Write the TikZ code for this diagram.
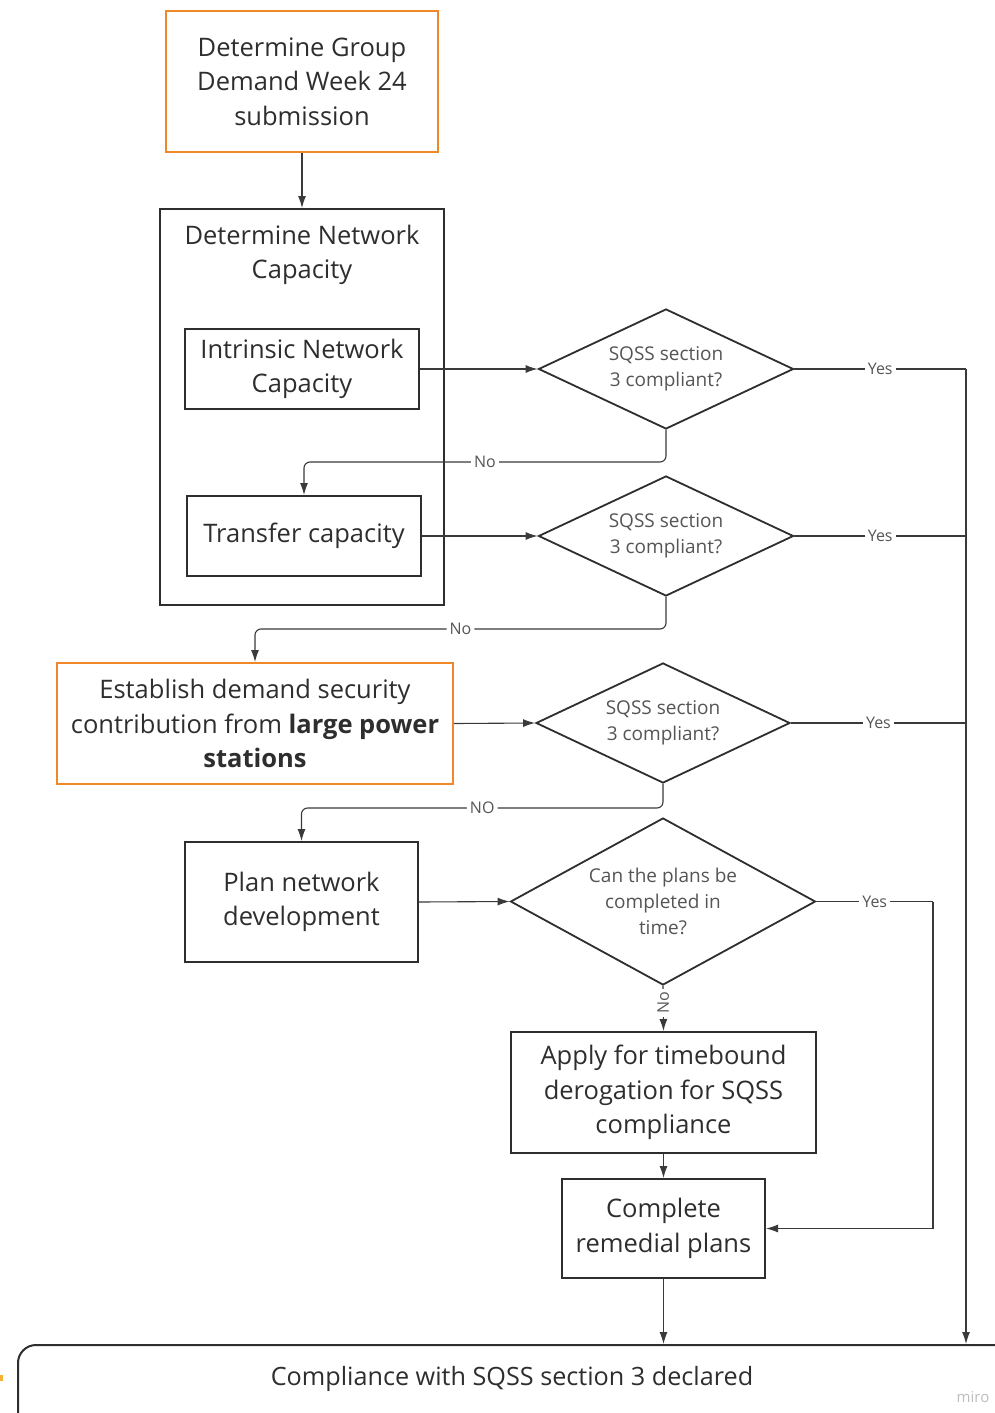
\documentclass[tikz,border=0pt]{standalone}
\usepackage{fontspec}
\setmainfont{Open Sans}
\usetikzlibrary{shapes.geometric,arrows.meta}
\definecolor{miroorange}{HTML}{F0882A}
\definecolor{ink}{HTML}{2E2E2E}
\definecolor{wire}{HTML}{3A3A3A}
\definecolor{labelgrey}{HTML}{555555}
\definecolor{markgrey}{HTML}{BDBDBD}
\definecolor{markyellow}{HTML}{F5B335}

\begin{document}
\begin{tikzpicture}[x=1pt,y=-1pt,
  box/.style={draw=ink, line width=2pt, rectangle, inner sep=0pt, align=center,
    font=\fontsize{25.5}{34.5}\selectfont, text=ink},
  obox/.style={box, draw=miroorange},
  dec/.style={draw=ink, line width=1.8pt, diamond, inner sep=0pt, align=center,
    font=\fontsize{19}{26}\selectfont, text=labelgrey},
  flow/.style={draw=wire, line width=1.1pt, -{Latex[length=12pt,width=8pt]}},
  edge/.style={draw=wire, line width=1.1pt},
  lbl/.style={fill=white, inner sep=3pt, font=\fontsize{16}{17}\selectfont, text=labelgrey},
]
\clip (0,0) rectangle (995,1413);
\fill[white] (0,0) rectangle (995,1413);

% process boxes
\node[obox, minimum width=272, minimum height=141] (group) at (302,81.5)
  {Determine Group\\Demand Week 24\\submission};
\node[box, minimum width=284, minimum height=396] (netcap) at (302,407) {};
\node[align=center, font=\fontsize{25.5}{34.5}\selectfont, text=ink] (netcaptitle) at (302,255)
  {Determine Network\\Capacity};
\node[box, minimum width=234, minimum height=80] (intrinsic) at (302,369)
  {Intrinsic Network\\Capacity};
\node[box, minimum width=234, minimum height=80] (transfer) at (304,536)
  {Transfer capacity};
\node[obox, minimum width=396, minimum height=121] (largegen) at (255,723.5)
  {Establish demand security\\contribution from \textbf{large power}\\\textbf{stations}};
\node[box, minimum width=233, minimum height=120] (plan) at (301.5,902)
  {Plan network\\development};
\node[box, minimum width=305, minimum height=121] (derog) at (663.5,1092.5)
  {Apply for timebound\\derogation for SQSS\\compliance};
\node[box, minimum width=203, minimum height=99] (remedial) at (663.5,1228.5)
  {Complete\\remedial plans};
\node[box, rounded corners=18, minimum width=1002, minimum height=100] (declared) at (519,1395)
  {};
\node[font=\fontsize{25.2}{26}\selectfont, text=ink] (declaredtext) at (512,1379)
  {Compliance with SQSS section 3 declared};

% decisions
\node[dec, aspect=2.125, minimum width=255, minimum height=120] (q1) at (666,369) {SQSS section\\3 compliant?};
\node[dec, aspect=2.125, minimum width=255, minimum height=120] (q2) at (666,536) {SQSS section\\3 compliant?};
\node[dec, aspect=2.117, minimum width=254, minimum height=120] (q3) at (663,723) {SQSS section\\3 compliant?};
\node[dec, aspect=1.83, minimum width=305, minimum height=167] (q4) at (663,901.5) {Can the plans be\\completed in\\time?};

% junction columns on the right
\coordinate (bus) at (966,369);
\coordinate (late) at (933,901.5);

% main flow
\draw[flow] (group.south) -- (netcap.north);
\draw[flow] (intrinsic.east) -- (q1.west);
\draw[flow] (transfer.east) -- (q2.west);
\draw[flow] (largegen.east) -- (q3.west);
\draw[flow] (plan.east) -- (q4.west);
\draw[flow] (derog.south) -- (remedial.north);
\draw[flow] (remedial.south) -- (remedial.south |- declared.north);

% compliant branches
\draw[edge] (q1.east) -- node[lbl]{Yes} (bus);
\draw[flow] (bus) -- (bus |- declared.north);
\draw[edge] (q2.east) -- node[lbl]{Yes} (q2.east -| bus);
\draw[edge] (q3.east) -- node[lbl]{Yes} (q3.east -| bus);
\draw[edge] (q4.east) -- node[lbl]{Yes} (late);
\draw[flow] (late) -- (late |- remedial.east) -- (remedial.east);

% non-compliant branches
\draw[flow, rounded corners=6] (q1.south) -- (666,462) -- node[lbl]{No} (transfer.north |- 0,462) -- (transfer.north);
\draw[flow, rounded corners=6] (q2.south) -- (666,629) -- node[lbl]{No} (largegen.north |- 0,629) -- (largegen.north);
\draw[flow, rounded corners=6] (q3.south) -- (663,808) -- node[lbl]{NO} (plan.north |- 0,808) -- (plan.north);
\draw[flow] (q4.south) -- node[lbl, rotate=90, pos=0.38]{No} (derog.north);

% page marks
\fill[markyellow] (0,1375) rectangle (3,1381);
\node[font=\fontsize{15}{16}\selectfont, text=markgrey] (brand) at (973,1397) {miro};
\end{tikzpicture}
\end{document}
